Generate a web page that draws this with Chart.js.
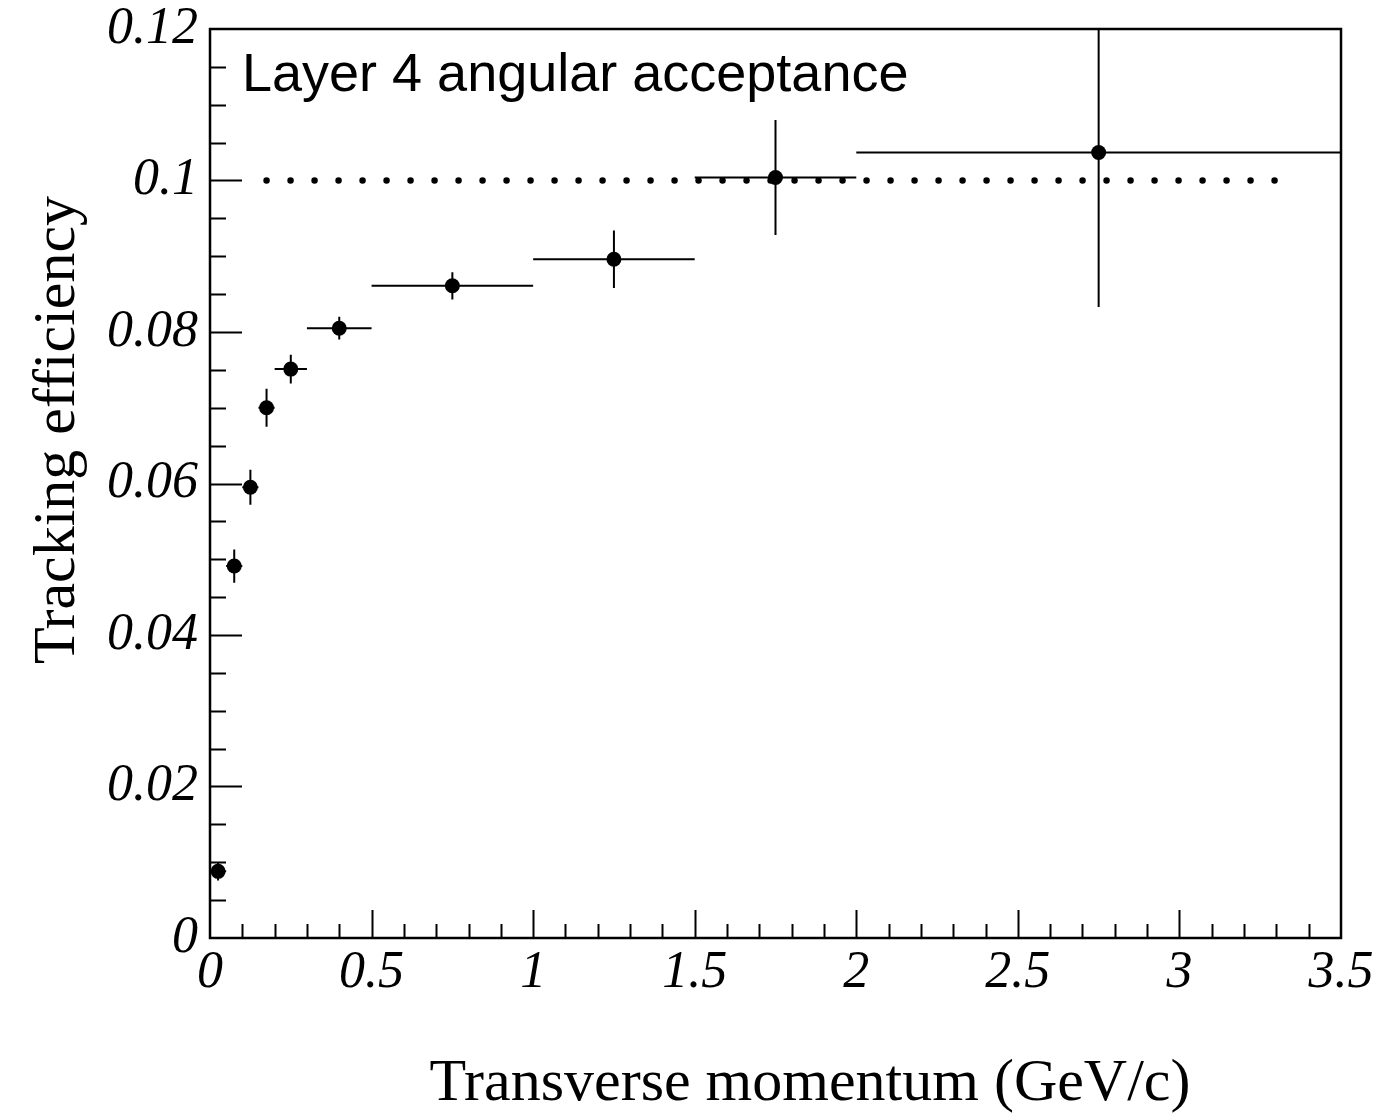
<!DOCTYPE html>
<html>
<head>
<meta charset="utf-8">
<title>Tracking efficiency</title>
<script src="https://cdn.jsdelivr.net/npm/chart.js@4.4.0/dist/chart.umd.min.js"></script>
<style>
  html, body { margin: 0; padding: 0; background: #fff; overflow: hidden; }
  canvas { display: block; }
</style>
</head>
<body>
<canvas id="effChart" width="1376" height="1117"></canvas>
<script>
// bin centres, bin edges and measured efficiency (with stat. errors)
const ptCentre = [0.025, 0.075, 0.125, 0.175, 0.25, 0.4, 0.75, 1.25, 1.75, 2.75];
const binLow   = [0, 0.05, 0.1, 0.15, 0.2, 0.3, 0.5, 1.0, 1.5, 2.0];
const binHigh  = [0.05, 0.1, 0.15, 0.2, 0.3, 0.5, 1.0, 1.5, 2.0, 3.5];
const effValue = [0.0088, 0.0491, 0.0595, 0.0700, 0.0751, 0.0805, 0.0861, 0.0896, 0.1004, 0.1037];
const effError = [0.0012, 0.0022, 0.0023, 0.0025, 0.0019, 0.0015, 0.0018, 0.0038, 0.0076, 0.0204];

// dotted reference line (geometric acceptance)
const refLevel = 0.1;
const refFrom = 0.175;
const refTo = 3.30;

const xTickLabels = ['0', '0.5', '1', '1.5', '2', '2.5', '3', '3.5'];
const yTickLabels = ['0', '0.02', '0.04', '0.06', '0.08', '0.1', '0.12'];

const xTitle = 'Transverse momentum (GeV/c)';
const yTitle = 'Tracking efficiency';
const panelLabel = 'Layer 4 angular acceptance';

const serifFont = '"Liberation Serif", "DejaVu Serif", serif';

// ROOT-like frame, inward ticks, error bars and labels
const rootStyle = {
    id: 'rootStyle',
    beforeDatasetsDraw(chart) {
        const { ctx, chartArea: a, scales: { x, y } } = chart;
        ctx.save();
        ctx.beginPath();
        ctx.rect(a.left, a.top, a.right - a.left, a.bottom - a.top);
        ctx.clip();
        ctx.strokeStyle = '#000';
        ctx.lineWidth = 2;
        ptCentre.forEach((pt, i) => {
            const cx = x.getPixelForValue(pt);
            const cy = y.getPixelForValue(effValue[i]);
            ctx.beginPath();
            ctx.moveTo(x.getPixelForValue(binLow[i]), cy);
            ctx.lineTo(x.getPixelForValue(binHigh[i]), cy);
            ctx.moveTo(cx, y.getPixelForValue(effValue[i] - effError[i]));
            ctx.lineTo(cx, y.getPixelForValue(effValue[i] + effError[i]));
            ctx.stroke();
        });
        ctx.restore();
    },
    afterDraw(chart) {
        const { ctx, chartArea: a, scales: { x, y } } = chart;
        ctx.save();
        ctx.strokeStyle = '#000';

        // x ticks: major every 0.5, minor every 0.1
        ctx.lineWidth = 2;
        ctx.beginPath();
        for (let i = 1; i < 35; i++) {
            const px = Math.round(x.getPixelForValue(i / 10)) + 0.5;
            const len = i % 5 === 0 ? 28 : 14;
            ctx.moveTo(px, a.bottom);
            ctx.lineTo(px, a.bottom - len);
        }
        // y ticks: major every 0.02, minor every 0.005
        for (let i = 1; i < 24; i++) {
            const py = Math.round(y.getPixelForValue(i * 0.005)) + 0.5;
            const len = i % 4 === 0 ? 32 : 16;
            ctx.moveTo(a.left, py);
            ctx.lineTo(a.left + len, py);
        }
        ctx.stroke();

        // frame
        ctx.lineWidth = 2.5;
        ctx.strokeRect(a.left, a.top, a.right - a.left, a.bottom - a.top);

        // texts
        ctx.fillStyle = '#000';
        ctx.font = '54px "Liberation Sans", Arial, sans-serif';
        ctx.textAlign = 'left';
        ctx.textBaseline = 'alphabetic';
        ctx.fillText(panelLabel, a.left + 32, a.top + 62);

        ctx.font = '60px ' + serifFont;
        ctx.textAlign = 'center';
        ctx.fillText(xTitle, 810, 1100);

        ctx.translate(74, 430);
        ctx.rotate(-Math.PI / 2);
        ctx.fillText(yTitle, 0, 0);
        ctx.restore();
    }
};

const ctx = document.getElementById('effChart').getContext('2d');
const effChart = new Chart(ctx, {
    type: 'scatter',
    data: {
        datasets: [
            {
                label: 'Efficiency',
                data: ptCentre.map((pt, i) => ({ x: pt, y: effValue[i] })),
                pointRadius: 7.5,
                pointBackgroundColor: '#000',
                pointBorderWidth: 0,
                showLine: false
            },
            {
                label: 'Acceptance',
                data: [{ x: refFrom, y: refLevel }, { x: refTo, y: refLevel }],
                showLine: true,
                borderColor: '#000',
                borderWidth: 6.5,
                borderDash: [0, 24],
                borderCapStyle: 'round',
                pointRadius: 0,
                fill: false
            }
        ]
    },
    options: {
        responsive: false,
        animation: false,
        events: [],
        layout: { padding: { left: 0, top: 29, right: 35, bottom: 0 } },
        plugins: {
            legend: { display: false },
            tooltip: { enabled: false }
        },
        scales: {
            x: {
                type: 'linear',
                min: 0,
                max: 3.5,
                grid: { display: false, drawTicks: false },
                border: { display: false },
                afterFit(scale) {
                    scale.height = 179;
                    scale.paddingLeft = 0;
                    scale.paddingRight = 0;
                },
                ticks: {
                    stepSize: 0.5,
                    autoSkip: false,
                    maxRotation: 0,
                    padding: 4,
                    color: '#000',
                    font: { family: serifFont, size: 52, style: 'italic' },
                    callback: (value, index) => xTickLabels[index]
                }
            },
            y: {
                type: 'linear',
                min: 0,
                max: 0.12,
                grid: { display: false, drawTicks: false },
                border: { display: false },
                afterFit(scale) {
                    scale.width = 210;
                    scale.paddingTop = 0;
                    scale.paddingBottom = 0;
                },
                ticks: {
                    stepSize: 0.02,
                    autoSkip: false,
                    padding: 12,
                    color: '#000',
                    font: { family: serifFont, size: 52, style: 'italic' },
                    callback: (value, index) => yTickLabels[index]
                }
            }
        }
    },
    plugins: [rootStyle]
});
</script>
</body>
</html>
